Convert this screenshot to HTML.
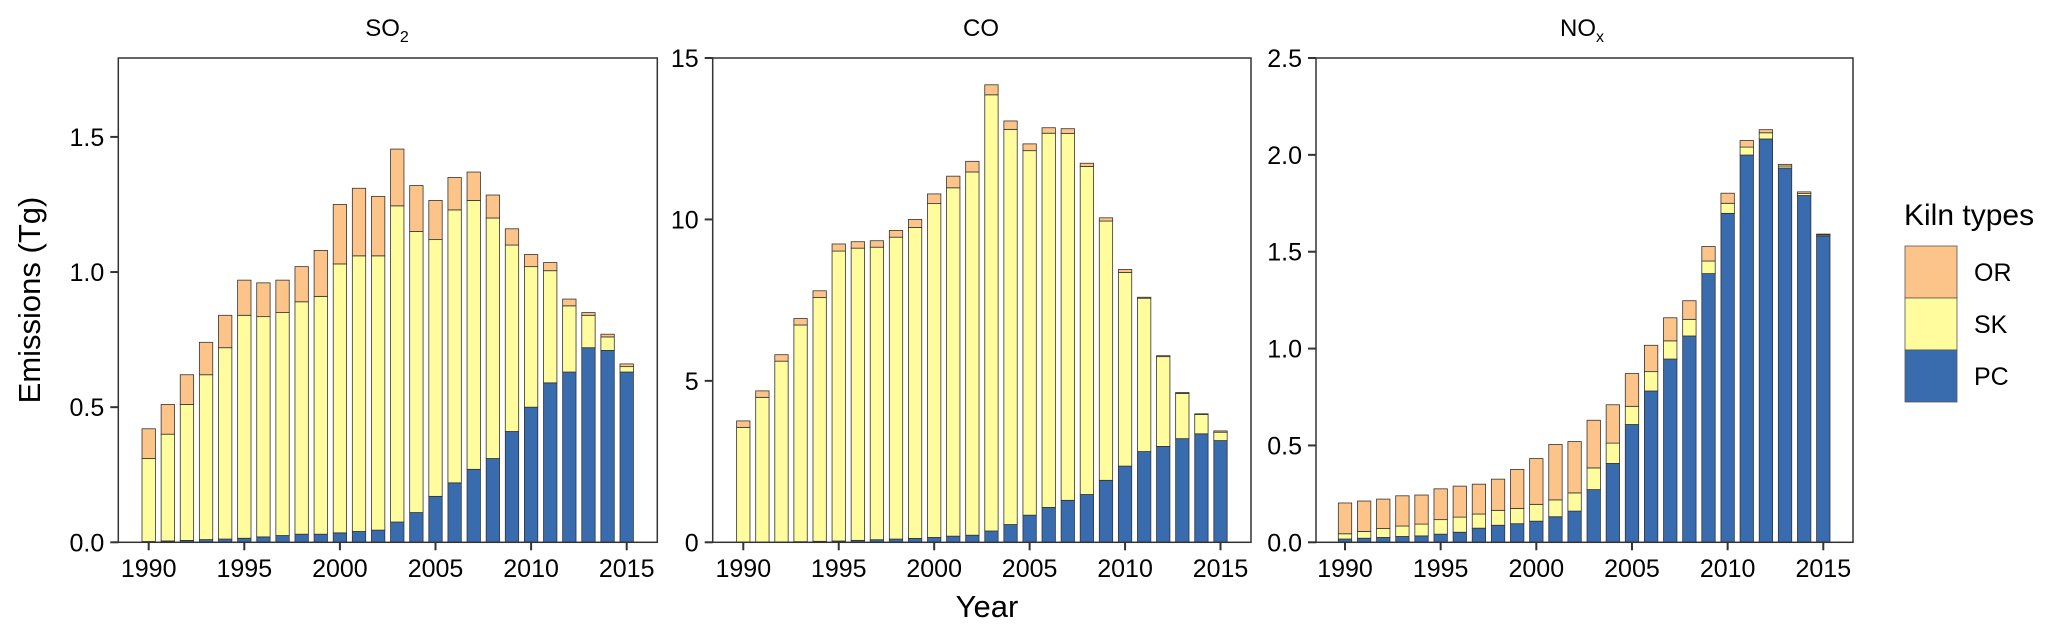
<!DOCTYPE html>
<html><head><meta charset="utf-8"><style>
html,body{margin:0;padding:0;background:#fff;}
svg{display:block;font-family:"Liberation Sans",Arial,sans-serif;}
</style></head><body>
<svg id="chart" width="2067" height="634" viewBox="0 0 2067 634" xmlns="http://www.w3.org/2000/svg">
<g id="panels"></g>
<text x="0" y="0" transform="translate(40,300) rotate(-90)" text-anchor="middle" font-size="31" fill="#000">Emissions (Tg)</text>
<text x="987" y="617" text-anchor="middle" font-size="31" fill="#000">Year</text>
<g>
<text x="1904" y="225" font-size="30" fill="#000">Kiln types</text>
<rect x="1905" y="246" width="52" height="52" fill="#FDC48A" stroke="#555" stroke-width="0.8"/>
<rect x="1905" y="298" width="52" height="52" fill="#FEFC9C" stroke="#555" stroke-width="0.8"/>
<rect x="1905" y="350" width="52" height="52" fill="#396CAF" stroke="#555" stroke-width="0.8"/>
<text x="1974" y="281" font-size="25" fill="#000">OR</text>
<text x="1974" y="333" font-size="25" fill="#000">SK</text>
<text x="1974" y="385" font-size="25" fill="#000">PC</text>
</g>
</svg>
<script>
const years = [1990,1991,1992,1993,1994,1995,1996,1997,1998,1999,2000,2001,2002,2003,2004,2005,2006,2007,2008,2009,2010,2011,2012,2013,2014,2015];
const xTickLabels = [1990,1995,2000,2005,2010,2015];
const so2PC  = [0.003,0.005,0.007,0.01,0.012,0.015,0.02,0.025,0.03,0.03,0.035,0.04,0.045,0.075,0.11,0.17,0.22,0.27,0.31,0.41,0.50,0.59,0.63,0.72,0.71,0.63];
const so2SK  = [0.307,0.395,0.503,0.61,0.708,0.825,0.815,0.825,0.86,0.88,0.995,1.02,1.015,1.17,1.04,0.95,1.01,0.995,0.89,0.69,0.52,0.415,0.245,0.12,0.05,0.02];
const so2OR  = [0.11,0.11,0.11,0.12,0.12,0.13,0.125,0.12,0.13,0.17,0.22,0.25,0.22,0.21,0.17,0.145,0.12,0.105,0.085,0.06,0.045,0.03,0.025,0.01,0.01,0.01];
const coPC   = [0,0,0.01,0.02,0.03,0.04,0.06,0.08,0.1,0.12,0.15,0.19,0.22,0.35,0.55,0.84,1.08,1.30,1.48,1.92,2.36,2.81,2.97,3.21,3.36,3.15];
const coSK   = [3.56,4.49,5.60,6.71,7.55,8.98,9.05,9.06,9.35,9.63,10.34,10.79,11.25,13.51,12.24,11.29,11.59,11.36,10.16,8.03,6.0,4.75,2.78,1.40,0.60,0.26];
const coOR   = [0.20,0.20,0.20,0.20,0.21,0.22,0.20,0.20,0.21,0.25,0.30,0.36,0.33,0.31,0.26,0.21,0.17,0.15,0.10,0.10,0.09,0.03,0.03,0.03,0.02,0.04];
const noxPC  = [0.017,0.021,0.025,0.03,0.033,0.042,0.052,0.073,0.088,0.096,0.109,0.132,0.161,0.272,0.407,0.608,0.781,0.946,1.065,1.387,1.698,1.999,2.082,1.932,1.79,1.581];
const noxSK  = [0.027,0.035,0.046,0.054,0.061,0.075,0.078,0.073,0.077,0.079,0.087,0.087,0.094,0.112,0.105,0.094,0.10,0.094,0.086,0.065,0.052,0.041,0.032,0.01,0.01,0.006];
const noxOR  = [0.159,0.157,0.152,0.156,0.15,0.159,0.16,0.154,0.161,0.201,0.236,0.286,0.265,0.246,0.198,0.169,0.136,0.119,0.096,0.075,0.052,0.034,0.016,0.009,0.009,0.004];
const so2Ticks = [0,0.5,1.0,1.5];
const so2TickLabels = ["0.0","0.5","1.0","1.5"];
const coTicks = [0,5,10,15];
const coTickLabels = ["0","5","10","15"];
const noxTicks = [0,0.5,1.0,1.5,2.0,2.5];
const noxTickLabels = ["0.0","0.5","1.0","1.5","2.0","2.5"];

const NS = "http://www.w3.org/2000/svg";
const COLORS = {PC:"#396CAF", SK:"#FEFC9C", OR:"#FDC48A"};
const TOP = 58, BOTTOM = 542.3;
function mk(tag, attrs, parent){const e=document.createElementNS(NS,tag);for(const k in attrs)e.setAttribute(k,attrs[k]);parent.appendChild(e);return e;}

const panels = [
 {key:"so2", title:"SO", sub:"2", left:118.3, right:657.3, x0:148.7, x1:626.7, ymax:1.792, ticks:so2Ticks, labels:so2TickLabels, pc:so2PC, sk:so2SK, or:so2OR, tx:387},
 {key:"co", title:"CO", sub:"", left:712.7, right:1251, x0:743.3, x1:1220.5, ymax:15, ticks:coTicks, labels:coTickLabels, pc:coPC, sk:coSK, or:coOR, tx:981},
 {key:"nox", title:"NO", sub:"x", left:1316, right:1853, x0:1345, x1:1823.3, ymax:2.5, ticks:noxTicks, labels:noxTickLabels, pc:noxPC, sk:noxSK, or:noxOR, tx:1582}
];
const root = document.getElementById("panels");
panels.forEach(p=>{
  const g = mk("g",{},root);
  
  
  const step = (p.x1-p.x0)/(years[years.length-1]-years[0]);
  const xs = yr => p.x0 + (yr-years[0])*step;
  const ys = v => BOTTOM - v/p.ymax*(BOTTOM-TOP);
  const bw = step*0.7;
  const t = mk("text",{x:p.tx,y:36,"text-anchor":"middle","font-size":"24",fill:"#000"},g);
  
  
  t.textContent = p.title;
  if(p.sub){const s=mk("tspan",{"font-size":"16",dy:"6"},t);s.textContent=p.sub;}
  years.forEach((yr,i)=>{
    let base = 0;
    [["PC",p.pc[i]],["SK",p.sk[i]],["OR",p.or[i]]].forEach(([k,v])=>{
      const y0 = ys(base), y1 = ys(base+v);
      const r = mk("rect",{x:xs(yr)-bw/2,y:y1,width:bw,height:Math.max(0,y0-y1),fill:COLORS[k],stroke:"#333","stroke-width":"0.8"},g);
      
      
      base += v;
    });
  });
  const f = mk("rect",{x:p.left,y:TOP,width:p.right-p.left,height:BOTTOM-TOP,fill:"none",stroke:"#333","stroke-width":"1.5"},g);
  
  
  p.ticks.forEach((v,i)=>{
    const y = ys(v);
    const tk = mk("line",{x1:p.left-8,x2:p.left,y1:y,y2:y,stroke:"#333","stroke-width":"2"},g);
    
    
    const lb = mk("text",{x:p.left-14,y:y+9,"text-anchor":"end","font-size":"25",fill:"#000"},g);
    
    
    lb.textContent = p.labels[i];
  });
  xTickLabels.forEach(yr=>{
    const x = xs(yr);
    const tk = mk("line",{x1:x,x2:x,y1:BOTTOM,y2:BOTTOM+8,stroke:"#333","stroke-width":"2"},g);
    
    
    const lb = mk("text",{x:x,y:577,"text-anchor":"middle","font-size":"25",fill:"#000"},g);
    
    
    lb.textContent = yr;
  });
});
</script>
</body></html>
